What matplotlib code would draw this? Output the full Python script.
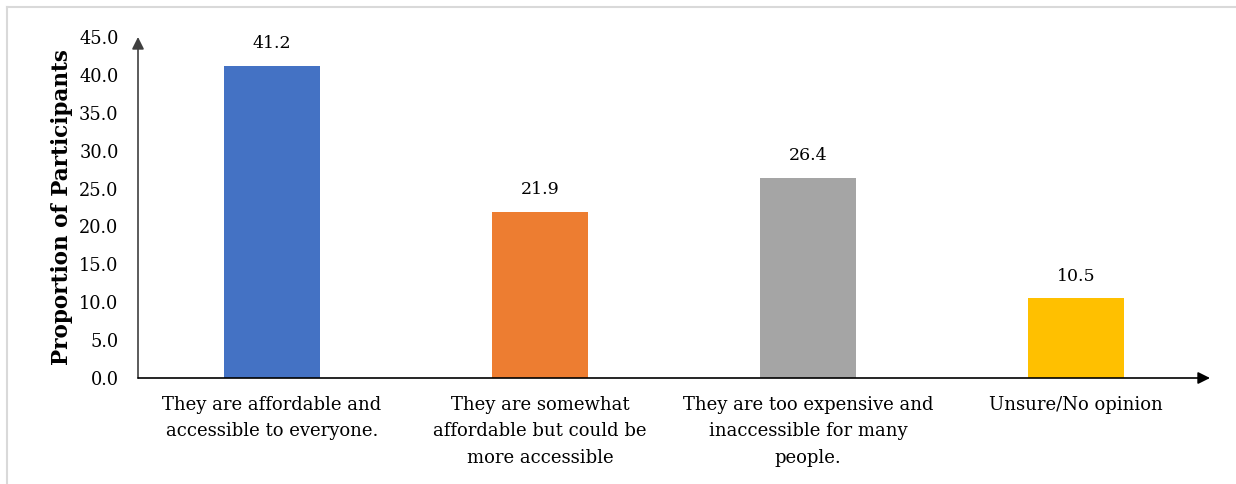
import matplotlib
matplotlib.use("Agg")
import matplotlib.pyplot as plt
from matplotlib.lines import Line2D

# Datos
categorias = ["They are affordable and\naccessible to everyone.",
              "They are somewhat\naffordable but could be\nmore accessible",
              "They are too expensive and\ninaccessible for many\npeople.",
              "Unsure/No opinion"]
valores = [41.2, 21.9, 26.4, 10.5]
colores = ["#4472C4", "#ED7D31", "#A5A5A5", "#FFC000"]
yticks = [0, 5, 10, 15, 20, 25, 30, 35, 40, 45]

plt.rcParams['font.family'] = ['DejaVu Serif']

fig = plt.figure(figsize=(12.36, 4.84), dpi=100)
ax = fig.add_axes([138/1236, 106/484, (1210-138)/1236, (447-106)/484])

x = range(len(valores))
bars = ax.bar(x, valores, width=0.36, color=colores)

for b, v in zip(bars, valores):
    ax.annotate(f"{v:.1f}", (b.get_x() + b.get_width()/2, v),
                xytext=(0, 10), textcoords="offset points",
                ha="center", va="bottom", fontsize=12.5)

ax.set_xlim(-0.5, 3.5)
ax.set_ylim(0, 45)
ax.set_yticks(yticks)
ax.set_yticklabels([f"{t:.1f}" for t in yticks], fontsize=12.8)
ax.set_xticks(list(x))
ax.set_xticklabels(categorias, fontsize=13, linespacing=1.6, va="top")
ax.tick_params(axis="y", length=0, pad=14)
ax.tick_params(axis="x", length=0, pad=13)
ax.set_ylabel("Proportion of Participants", fontsize=15.5, fontweight="bold", labelpad=4)

for s in ax.spines.values():
    s.set_visible(False)

# Ejes con flechas
ax.annotate("", xy=(0, 1.0), xytext=(0, 0), xycoords="axes fraction",
            arrowprops=dict(arrowstyle="-|>", color="#404040", lw=1.2,
                            mutation_scale=18, shrinkA=0, shrinkB=0),
            annotation_clip=False)
ax.annotate("", xy=(1.0, 0), xytext=(0, 0), xycoords="axes fraction",
            arrowprops=dict(arrowstyle="-|>", color="black", lw=1.2,
                            mutation_scale=18, shrinkA=0, shrinkB=0),
            annotation_clip=False)

# Borde gris de la figura
fig.add_artist(Line2D([7/1236, 1], [1 - 7/484, 1 - 7/484], color="#D9D9D9", lw=1.5))
fig.add_artist(Line2D([7/1236, 7/1236], [0, 1 - 7/484], color="#D9D9D9", lw=1.5))

fig.savefig("out.png", dpi=100, facecolor="white")
